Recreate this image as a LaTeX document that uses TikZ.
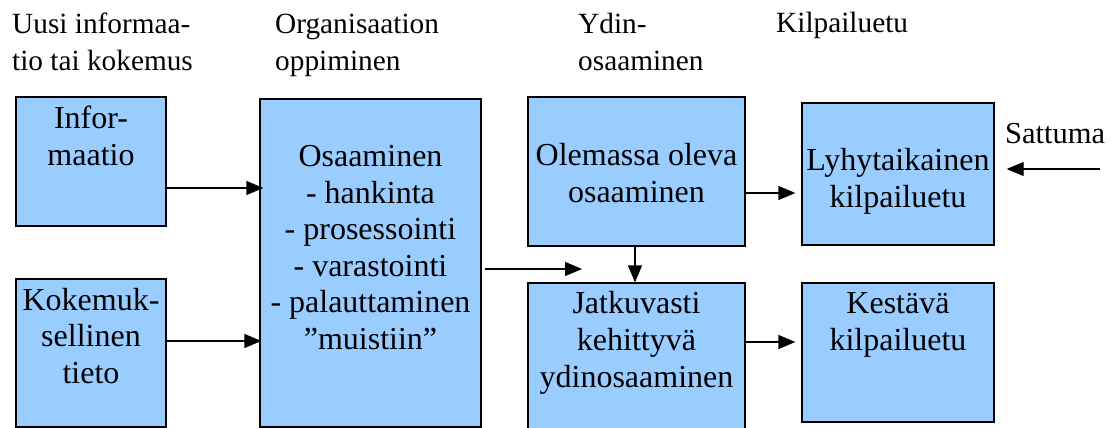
\documentclass[tikz,border=0pt]{standalone}
\usepackage{fontspec}
\setmainfont{Liberation Serif}
\usetikzlibrary{arrows.meta}
\definecolor{boxblue}{HTML}{99CCFF}
\tikzset{
  panel/.style={draw=black, fill=boxblue, line width=1.3pt, inner sep=0pt},
  % multi-line texts are placed by the baseline of their last line
  boxtext/.style={align=center, inner sep=0pt, anchor=base,
    font=\fontsize{32}{36.6}\selectfont},
  headtext/.style={align=left, inner sep=0pt, anchor=base west,
    font=\fontsize{29.3}{38}\selectfont},
  arr/.style={line width=1.3pt, -{Triangle[length=17pt,width=14pt]}},
}
\begin{document}
\begin{tikzpicture}[x=1pt,y=-1pt]
\clip (0,0) rectangle (1112,428);
\fill[white] (0,0) rectangle (1112,428);

% column headings
\node[headtext] (h1) at (12,71) {Uusi informaa-\\tio tai kokemus};
\node[headtext] (h2) at (275,71) {Organisaation\\oppiminen};
\node[headtext] (h3) at (578,71) {Ydin-\\osaaminen};
\node[headtext] (h4) at (776,33) {Kilpailuetu};

% boxes
\node[panel, minimum width=150pt, minimum height=129pt] (b1) at (91,161.5) {};
\node[panel, minimum width=150pt, minimum height=148pt] (b2) at (91,353) {};
\node[panel, minimum width=221pt, minimum height=328pt] (b3) at (370.5,263) {};
\node[panel, minimum width=217pt, minimum height=149pt] (b4) at (636.5,171.5) {};
\node[panel, minimum width=217pt, minimum height=156pt] (b5) at (636.5,361) {};
\node[panel, minimum width=192pt, minimum height=142pt] (b6) at (898,174) {};
\node[panel, minimum width=192pt, minimum height=139pt] (b7) at (898,352.5) {};

% box texts
\node[boxtext] (t1) at (91,165) {Infor-\\maatio};
\node[boxtext] (t2) at (91,383.5) {Kokemuk-\\sellinen\\tieto};
\node[boxtext] (t3) at (370.5,349.5) {Osaaminen\\- hankinta\\- prosessointi\\- varastointi\\- palauttaminen\\”muistiin”};
\node[boxtext] (t4) at (636.5,202.5) {Olemassa oleva\\osaaminen};
\node[boxtext] (t5) at (636.5,387) {Jatkuvasti\\kehittyvä\\ydinosaaminen};
\node[boxtext] (t6) at (898,207.5) {Lyhytaikainen\\kilpailuetu};
\node[boxtext] (t7) at (898,350.5) {Kestävä\\kilpailuetu};
\node[anchor=base west, inner sep=0pt, font=\fontsize{30.5}{36}\selectfont] (s) at (1005,143) {Sattuma};

% connectors
\coordinate (c3) at (582,269);
\coordinate (sfrom) at (1100,169);
\draw[arr] (b1.east |- 0,188) -- ([xshift=4pt]b3.west |- 0,188);
\draw[arr] (b2.east |- 0,341) -- ([xshift=2pt]b3.west |- 0,341);
\draw[arr] ([xshift=3pt]b3.east |- 0,269) -- (c3);
\draw[arr] (b4.south -| 635,0) -- (b5.north -| 635,0);
\draw[arr, shorten >=6pt] (b4.east |- 0,193) -- (b6.west |- 0,193);
\draw[arr, shorten >=6pt] (b5.east |- 0,342) -- (b7.west |- 0,342);
\draw[arr, shorten >=12pt] (sfrom) -- (b6.east |- sfrom);
\end{tikzpicture}
\end{document}
